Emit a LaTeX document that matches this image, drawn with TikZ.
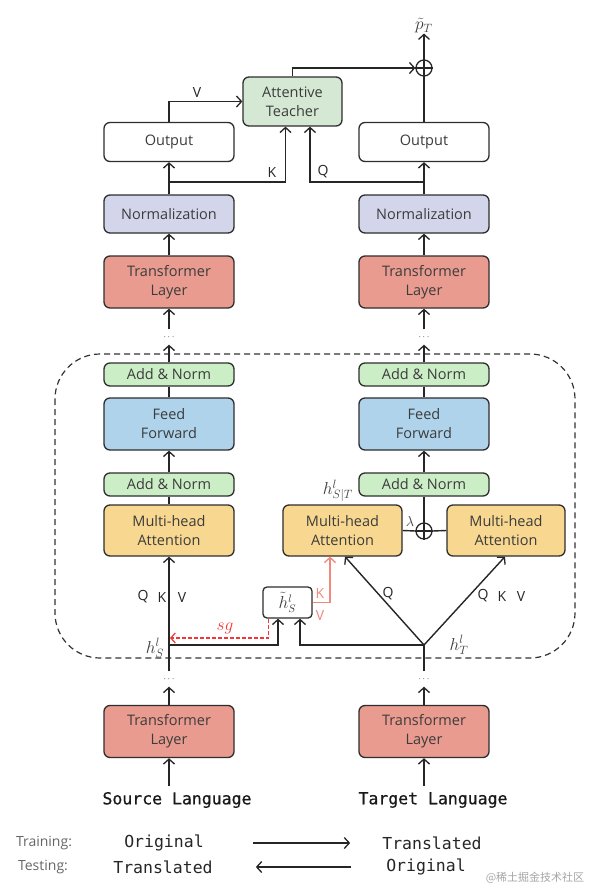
\documentclass[tikz,border=0pt]{standalone}
\usepackage{fontspec}
\usetikzlibrary{arrows.meta,calc}
\newfontfamily\boxf{Open Sans}
\newfontfamily\monof{DejaVu Sans Mono}
\newfontfamily\monob[FakeBold=0.6]{DejaVu Sans Mono}
\newfontfamily\cjkf{Noto Sans CJK SC}
\definecolor{cAT}{HTML}{D5E8D4}
\definecolor{cNorm}{HTML}{D3D5EB}
\definecolor{cTL}{HTML}{EA9B8F}
\definecolor{cAN}{HTML}{CCEEC6}
\definecolor{cFF}{HTML}{AED3EA}
\definecolor{cMHA}{HTML}{F8D890}
\definecolor{cSal}{HTML}{F2877B}
\definecolor{cRed}{HTML}{F53535}
\definecolor{cTxt}{HTML}{3C3C3C}
\tikzset{
  blk/.style={draw=black!82, line width=1.3pt, rounded corners=6pt, align=center,
    inner sep=0pt, font=\boxf\fontsize{14.5}{19}\selectfont, text=cTxt, minimum width=130pt},
  outbox/.style={blk, fill=white, minimum height=39pt},
  atbox/.style={blk, fill=cAT, minimum width=99pt, minimum height=49pt},
  normbox/.style={blk, fill=cNorm, minimum height=38pt},
  tlbox/.style={blk, fill=cTL, minimum height=52pt},
  anbox/.style={blk, fill=cAN, minimum height=23pt},
  ffbox/.style={blk, fill=cFF, minimum height=52pt},
  mhabox/.style={blk, fill=cMHA, minimum height=51pt},
  hbox/.style={blk, fill=white, minimum width=49pt, minimum height=31pt, rounded corners=4pt},
  plusn/.style={circle, draw=black!85, line width=1.3pt, minimum size=16pt, inner sep=0pt},
  dotn/.style={inner sep=0pt, minimum height=15pt, minimum width=8pt, font=\fontsize{9}{9}\selectfont},
  arr/.style={-{Straight Barb[length=5pt,width=11pt,line width=1.3pt]}, line width=1.4pt, draw=black!85},
  ln/.style={line width=1.4pt, draw=black!85},
  lab/.style={font=\boxf\fontsize{14}{16}\selectfont, text=black!85, inner sep=0pt},
  mlab/.style={font=\fontsize{18}{21}\selectfont, text=cTxt, inner sep=0pt},
  mono/.style={font=\monof\fontsize{16.5}{19}\selectfont, text=black!85, inner sep=0pt},
  monobig/.style={font=\monob\fontsize{16.5}{19}\selectfont, text=black!90, inner sep=0pt},
  gl/.style={font=\boxf\fontsize{14}{16}\selectfont, text=black!60, inner sep=0pt},
}
\begin{document}
\begin{tikzpicture}[x=1pt,y=-1pt]
\useasboundingbox (0,0) rectangle (594,889);
\fill[white] (0,0) rectangle (594,889);

% dashed block
\draw[black!80, line width=1.2pt, dash pattern=on 6pt off 4pt, rounded corners=45pt] (55,354) rectangle (575,658);

% top part
\node[outbox] (outL) at (169,142) {Output};
\node[outbox] (outR) at (424,142) {Output};
\node[atbox] (AT) at (292.5,101.5) {Attentive\\Teacher};
\node[plusn] (plusT) at (424,68) {};
\draw[ln] (plusT.north) -- (plusT.south) (plusT.west) -- (plusT.east);
\node[mlab] (pT) at (424,26) {$\tilde{p}_T$};

\node[normbox] (normL) at (169,214) {Normalization};
\node[normbox] (normR) at (424,214) {Normalization};
\node[tlbox] (tlL) at (169,282) {Transformer\\Layer};
\node[tlbox] (tlR) at (424,282) {Transformer\\Layer};
\node[dotn] (dL1) at (169,337) {$\cdots$};
\node[dotn] (dR1) at (424,337) {$\cdots$};

% inside block, left
\node[anbox] (anL1) at (169,374.5) {Add \& Norm};
\node[ffbox] (ffL) at (169,424) {Feed\\Forward};
\node[anbox] (anL2) at (169,484.5) {Add \& Norm};
\node[mhabox] (mhaL) at (169,530.5) {Multi-head\\Attention};

% inside block, right
\node[anbox] (anR1) at (424,374.5) {Add \& Norm};
\node[ffbox] (ffR) at (424,424) {Feed\\Forward};
\node[anbox] (anR2) at (424,484.5) {Add \& Norm};
\node[mhabox, minimum width=119pt] (mhaR1) at (342.5,530.5) {Multi-head\\Attention};
\node[mhabox, minimum width=118pt] (mhaR2) at (506,530.5) {Multi-head\\Attention};
\node[plusn] (plusM) at (424,531) {};
\draw[ln] (plusM.north) -- (plusM.south) (plusM.west) -- (plusM.east);

\node[hbox, font=\fontsize{16}{18}\selectfont] (hT) at (287.5,602.5) {$\tilde{h}_S^l$};
\coordinate (hS) at (169,645);
\coordinate (hTp) at (424,645);

% bottom
\node[dotn] (dL2) at (169,679) {$\cdots$};
\node[dotn] (dR2) at (424,679) {$\cdots$};
\node[tlbox] (tlL2) at (169,731.5) {Transformer\\Layer};
\node[tlbox] (tlR2) at (424,731.5) {Transformer\\Layer};
\node[monobig] (src) at (177,800) {Source Language};
\node[monobig] (tgt) at (433,800) {Target Language};
\coordinate (cS) at (169,786);
\coordinate (cT) at (424,786);

% connectors: top
\draw[arr] (outL.north) |- (AT.west);
\draw[arr] (AT.north) |- (plusT.west);
\draw[ln] (outR.north) -- (plusT.south);
\draw[arr] (plusT.north) -- (pT.south);
\coordinate (kS) at (169,182);
\coordinate (qS) at (424,182);
\draw[arr] (kS) -| ([xshift=-7pt]AT.south);
\draw[arr] (qS) -| ([xshift=17.5pt]AT.south);
\draw[arr] (normL.north) -- (outL.south);
\draw[arr] (normR.north) -- (outR.south);
\draw[arr] (tlL.north) -- (normL.south);
\draw[arr] (tlR.north) -- (normR.south);
\draw[arr] (dL1.north) -- (tlL.south);
\draw[arr] (dR1.north) -- (tlR.south);
\draw[arr] (anL1.north) -- (dL1.south);
\draw[arr] (anR1.north) -- (dR1.south);
\draw[ln] (ffL.north) -- (anL1.south);
\draw[ln] (ffR.north) -- (anR1.south);
\draw[arr] (anL2.north) -- (ffL.south);
\draw[arr] (anR2.north) -- (ffR.south);
\draw[ln] (mhaL.north) -- (anL2.south);
\draw[ln] (plusM.north) -- (anR2.south);
\draw[ln] (mhaR1.east) -- (plusM.west);
\draw[ln] (plusM.east) -- (mhaR2.west);

% connectors: bottom
\draw[arr] (cS) -- (tlL2.south);
\draw[arr] (cT) -- (tlR2.south);
\draw[arr] (tlL2.north) -- (dL2.south);
\draw[arr] (tlR2.north) -- (dR2.south);
\draw[arr] (dL2.north) -- (mhaL.south);
\draw[ln] (dR2.north) -- (hTp);
\draw[arr] (hTp) -- ([xshift=2.5pt]mhaR1.south);
\draw[arr] (hTp) -- ([xshift=-1pt]mhaR2.south);
\draw[arr] (hTp) -| ([xshift=12.5pt]hT.south);
\draw[arr] (hS) -| ([xshift=-9.5pt]hT.south);
\coordinate (sgE) at (170,638);
\draw[cRed, line width=1.2pt, dash pattern=on 4pt off 2pt, -{Straight Barb[length=4.5pt,width=10pt,line width=1.2pt]}]
  ([xshift=-19pt]hT.south) |- (sgE);
\draw[cSal, line width=1.4pt, -{Straight Barb[length=5pt,width=11pt,line width=1.3pt]}]
  (hT.east) -| ([xshift=-12.5pt]mhaR1.south);

% labels
\node[lab] (lV) at (197,93) {V};
\node[lab] (lK) at (272,172) {K};
\node[lab] (lQ) at (323,172) {Q};
\node[lab] (q1) at (143,597) {Q};
\node[lab] (k1) at (162,597) {K};
\node[lab] (v1) at (182,597) {V};
\node[lab] (q2) at (388,594) {Q};
\node[lab] (q3) at (483,596) {Q};
\node[lab] (k3) at (502,596) {K};
\node[lab] (v3) at (521,596) {V};
\node[lab, text=cSal] (kS2) at (320,593) {K};
\node[lab, text=cSal] (vS2) at (320,615) {V};
\node[font=\fontsize{16}{18}\selectfont, text=cRed, inner sep=0pt] (sg) at (225,628) {$sg$};
\node[font=\fontsize{15}{17}\selectfont, text=cTxt, inner sep=0pt] (lam) at (410,521) {$\lambda$};
\node[mlab] (hST) at (338,491) {$h_{S|T}^l$};
\node[mlab] (hSl) at (155,648) {$h_S^l$};
\node[mlab] (hTl) at (459,645) {$h_T^l$};

% legend
\node[gl] (tr) at (44,843) {Training:};
\node[gl] (te) at (43,867) {Testing:};
\node[mono] (o1) at (164,843) {Original};
\node[mono] (t1) at (432,843) {Translated};
\node[mono] (t2) at (163,867) {Translated};
\node[mono] (o2) at (426,867) {Original};
\draw[arr, line width=1.2pt] ([xshift=49pt]o1.east) -- ([xshift=-32pt]t1.west);
\draw[arr, line width=1.2pt] ([xshift=-35pt]o2.west) -- ([xshift=43pt]t2.east);
\node[font=\cjkf\fontsize{11}{13}\selectfont, text=black!35, inner sep=0pt] (wm) at (535,878) {@稀土掘金技术社区};
\end{tikzpicture}
\end{document}
